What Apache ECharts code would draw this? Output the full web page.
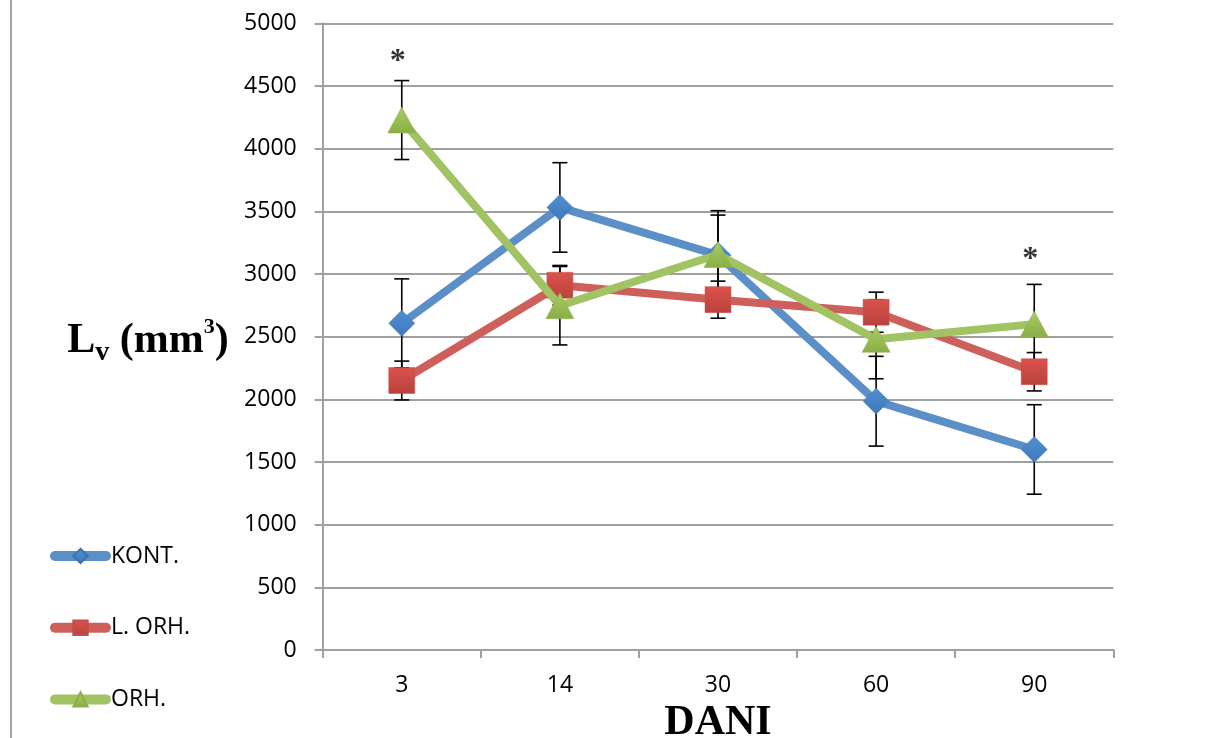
<!DOCTYPE html>
<html>
<head>
<meta charset="utf-8">
<script src="https://cdn.jsdelivr.net/npm/echarts@6/dist/echarts.min.js"></script>
<style>html,body{margin:0;padding:0;background:#fff;}#c{width:1226px;height:738px;}</style>
</head>
<body>
<div id="c"></div>
<script>
// ---- data ----
var categories = ['3', '14', '30', '60', '90'];
var seriesNames = ['KONT.', 'L. ORH.', 'ORH.'];
var kont = [2606, 3531, 3150, 1985, 1600];
var kontErr = [355, 357, 355, 358, 357];
var lorh = [2150, 2910, 2795, 2695, 2220];
var lorhErr = [155, 158, 148, 160, 153];
var orh = [4228, 2747, 3155, 2479, 2600];
var orhErr = [315, 313, 315, 315, 317];
var starCategories = ['3', '90'];
var starValues = [4690, 3110];
var yTicks = [0, 500, 1000, 1500, 2000, 2500, 3000, 3500, 4000, 4500, 5000];

function errData(vals, errs) {
  return vals.map(function (v, i) { return [i, v - errs[i], v + errs[i]]; });
}
function errSeries(vals, errs) {
  return {
    type: 'custom',
    z: 1,
    silent: true,
    data: errData(vals, errs),
    renderItem: function (params, api) {
      var x = api.value(0);
      var lo = api.coord([x, api.value(1)]);
      var hi = api.coord([x, api.value(2)]);
      var w = 7.5;
      var st = { stroke: '#000', lineWidth: 1.6 };
      return {
        type: 'group',
        children: [
          { type: 'line', shape: { x1: hi[0], y1: hi[1], x2: lo[0], y2: lo[1] }, style: st },
          { type: 'line', shape: { x1: hi[0] - w, y1: hi[1], x2: hi[0] + w, y2: hi[1] }, style: st },
          { type: 'line', shape: { x1: lo[0] - w, y1: lo[1], x2: lo[0] + w, y2: lo[1] }, style: st }
        ]
      };
    }
  };
}
function grad(top, bottom) {
  return new echarts.graphic.LinearGradient(0, 0, 0, 1, [
    { offset: 0, color: top }, { offset: 1, color: bottom }
  ]);
}
var axisGray = '#A0A0A0';
var font = "'Open Sans', 'Noto Sans', sans-serif";

var chart = echarts.init(document.getElementById('c'), null, { renderer: 'canvas' });
chart.setOption({
  animation: false,
  backgroundColor: '#fff',
  grid: { left: 322.7, right: 112.7, top: 23.3, bottom: 88, outerBoundsMode: 'none' },
  graphic: [
    { type: 'line', shape: { x1: 11, y1: 0, x2: 11, y2: 738 }, style: { stroke: '#A6A6A6', lineWidth: 2 } }
  ],
  legend: {
    orient: 'vertical',
    left: 45,
    top: 539,
    itemWidth: 51,
    itemHeight: 18,
    itemGap: 47.7,
    data: seriesNames,
    lineStyle: { width: 10, cap: 'round' },
    textStyle: { fontFamily: font, fontSize: 23, color: '#000', lineHeight: 24 }
  },
  xAxis: {
    type: 'category',
    data: categories,
    boundaryGap: true,
    axisLine: { lineStyle: { color: axisGray, width: 2 } },
    axisTick: { show: true, alignWithLabel: false, length: 8, lineStyle: { color: axisGray, width: 2 } },
    axisLabel: { fontFamily: font, fontSize: 23, color: '#000', margin: 24 },
    splitLine: { show: false },
    name: 'DANI',
    nameLocation: 'middle',
    nameGap: 47,
    nameTextStyle: { fontFamily: "'Liberation Serif', 'Times New Roman', serif", fontWeight: 'bold', fontSize: 42, color: '#000' }
  },
  yAxis: {
    type: 'value',
    min: 0,
    max: 5000,
    interval: 500,
    axisLine: { show: true, lineStyle: { color: axisGray, width: 2 } },
    axisTick: { show: true, length: 8, lineStyle: { color: axisGray, width: 2 } },
    axisLabel: { fontFamily: font, fontSize: 23, color: '#000', margin: 26,
      formatter: function (v) { return yTicks.indexOf(v) >= 0 ? String(v) : ''; } },
    splitLine: { show: true, lineStyle: { color: axisGray, width: 2 } },
    name: '{b|L}{sub|v}{b| (mm}{sup|3}{b|)}',
    nameLocation: 'middle',
    nameRotate: 0,
    nameGap: 94,
    nameTextStyle: {
      padding: [10, 0, 0, 0],
      rich: {
        b: { fontFamily: "'Liberation Serif', serif", fontWeight: 'bold', fontSize: 42, lineHeight: 50, color: '#000' },
        sub: { fontFamily: "'Liberation Serif', serif", fontWeight: 'bold', fontSize: 28, lineHeight: 22, verticalAlign: 'bottom', color: '#000' },
        sup: { fontFamily: "'Liberation Serif', serif", fontWeight: 'bold', fontSize: 22, lineHeight: 34, verticalAlign: 'top', color: '#000' }
      }
    }
  },
  series: [
    errSeries(kont, kontErr),
    errSeries(lorh, lorhErr),
    errSeries(orh, orhErr),
    {
      name: seriesNames[0], type: 'line', data: kont, z: 3,
      symbol: 'diamond', symbolSize: 26,
      lineStyle: { color: '#5A8FC8', width: 8 },
      itemStyle: { color: grad('#4F8FD3', '#3F79B9'), borderColor: '#3C73B0', borderWidth: 0.5 }
    },
    {
      name: seriesNames[1], type: 'line', data: lorh, z: 3,
      symbol: 'rect', symbolSize: 26,
      lineStyle: { color: '#CE605B', width: 8 },
      itemStyle: { color: grad('#DC534B', '#B8423D'), borderColor: '#C0504D', borderWidth: 0.5 }
    },
    {
      name: seriesNames[2], type: 'line', data: orh, z: 4,
      symbol: 'triangle', symbolSize: [28, 26],
      lineStyle: { color: '#A2C363', width: 8 },
      itemStyle: { color: grad('#A8CB62', '#8AAE47'), borderColor: '#8FAF4E', borderWidth: 0.5 }
    },
    {
      type: 'scatter', z: 5, silent: true,
      symbolSize: 0,
      data: starCategories.map(function (c, i) { return [c, starValues[i]]; }),
      label: {
        show: true, position: 'inside', formatter: '*', offset: [-4, 0],
        fontFamily: "'Liberation Serif', serif", fontWeight: 'bold', fontSize: 32, color: '#000'
      }
    }
  ]
});
</script>
</body>
</html>
